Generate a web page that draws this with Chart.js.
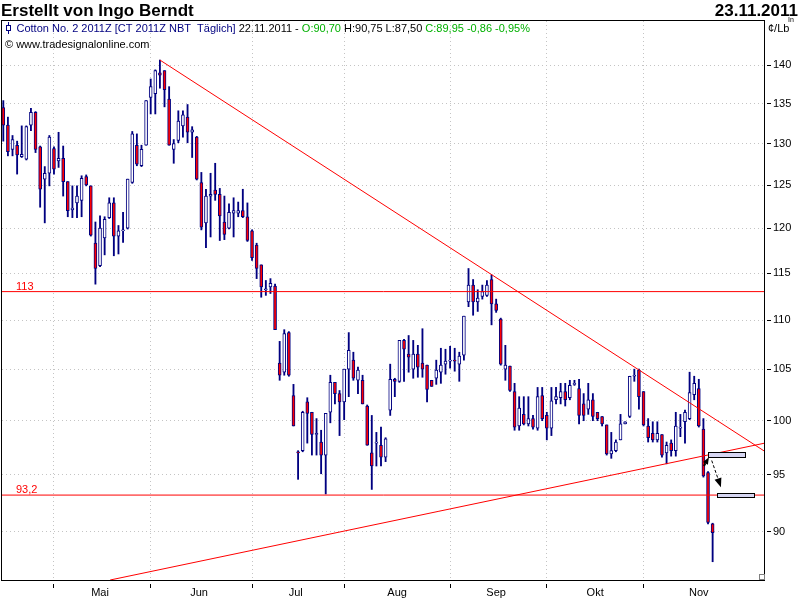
<!DOCTYPE html>
<html>
<head>
<meta charset="utf-8">
<script src="https://cdn.jsdelivr.net/npm/chart.js@4.4.1/dist/chart.umd.min.js"></script>
<style>
  html, body { margin: 0; padding: 0; background: #fff; }
</style>
</head>
<body>
<canvas id="chart" width="800" height="600"></canvas>
<script>
// Cotton No. 2 2011Z, daily candles 14.04.2011 - 22.11.2011 (index = trading day)
const opens = [134.5,132.3,129.3,129.8,128.4,128.1,132.3,133.9,129.6,125.7,
  126.4,129.4,127.9,128.2,125.4,122.1,122.9,123.2,126.0,124.9,
  118.3,115.8,118.9,121.2,122.9,119.1,119.7,120.0,125.3,129.8,
  127.3,129.8,135.8,136.3,139.0,139.3,135.6,129.3,130.4,132.2,
  133.3,131.4,130.8,125.3,120.6,123.7,124.4,123.9,120.7,120.0,
  121.7,121.7,122.0,121.3,119.7,118.1,115.9,113.2,113.5,113.6,
  105.6,104.7,108.7,102.4,97.1,97.2,101.8,100.8,98.7,98.0,
  96.8,100.8,103.7,102.6,101.8,105.0,105.9,103.9,103.9,101.4,
  97.0,97.9,97.7,96.6,101.0,104.0,103.8,107.9,106.5,105.0,
  106.5,105.6,105.4,103.9,104.1,104.7,105.5,105.8,105.9,105.5,
  106.4,111.9,113.7,111.9,112.5,112.6,114.3,111.7,110.1,105.0,
  105.3,102.8,99.5,100.6,99.7,100.2,99.3,102.4,100.5,99.3,
  102.0,102.2,102.8,102.2,103.5,103.1,101.6,101.1,102.0,100.8,
  100.4,99.6,96.9,97.2,98.2,99.7,100.4,104.3,104.9,102.8,
  99.5,98.8,98.2,98.7,97.0,97.9,97.2,99.3,99.9,100.2,
  102.5,103.1,99.2,95.2,90.70];
const highs = [135.4,133.3,131.0,130.3,132.2,132.2,134.4,134.0,129.7,127.2,
  131.0,129.6,131.4,129.7,125.4,124.9,124.9,126.1,126.2,124.9,
  120.7,121.4,121.3,123.5,123.5,120.3,121.8,125.7,131.5,131.2,
  129.8,135.4,138.2,139.4,140.7,139.3,137.2,130.5,134.1,134.1,
  134.9,132.1,130.9,126.5,124.5,126.4,127.6,124.6,123.7,122.8,
  123.5,123.0,124.5,122.9,119.8,118.3,115.9,114.2,114.4,113.8,
  107.8,109.0,108.8,103.5,97.2,100.9,102.2,100.8,100.2,99.1,
  100.7,104.4,103.7,102.9,105.0,108.7,106.7,105.2,104.4,101.5,
  100.5,98.9,99.4,98.4,105.5,104.1,107.9,108.0,108.4,107.9,
  107.4,109.1,105.4,103.9,105.9,107.1,107.0,107.3,107.1,106.7,
  110.4,115.5,114.3,113.2,113.7,114.2,114.8,112.2,110.2,107.4,
  105.3,103.6,102.3,102.3,102.3,100.5,103.2,103.2,100.8,103.2,
  103.2,103.6,103.6,103.9,103.9,104.0,102.6,103.6,102.6,100.8,
  100.4,99.6,98.9,98.2,100.6,99.9,104.3,105.0,105.0,102.8,
  100.2,99.9,99.9,98.7,98.0,98.2,100.8,100.6,101.0,104.7,
  104.3,104.0,100.2,95.3,90.75];
const lows = [130.3,128.5,128.5,126.3,128.3,128.0,131.6,128.9,122.4,120.6,
  124.9,126.3,127.1,123.7,121.3,121.2,121.2,121.3,124.9,119.1,
  113.8,115.7,117.0,121.1,116.9,117.1,118.4,119.9,125.2,127.3,
  127.2,129.8,133.7,133.7,137.0,134.6,129.8,127.6,130.1,130.8,
  130.1,128.3,125.6,119.8,117.8,119.0,123.2,118.6,118.7,119.9,
  119.0,121.3,121.2,118.5,116.4,114.4,112.4,112.6,112.8,109.0,
  103.9,104.4,104.3,99.5,94.6,97.1,97.9,96.8,96.8,95.1,
  93.3,99.8,101.6,98.6,100.1,102.3,103.9,102.6,101.6,97.7,
  93.7,95.8,95.8,96.2,100.5,102.3,103.7,103.8,104.7,104.1,
  104.2,104.2,101.8,103.3,103.5,103.6,104.5,105.1,104.8,103.8,
  105.9,111.4,110.5,110.9,112.2,112.5,109.5,110.8,105.4,103.9,
  102.8,99.1,99.1,99.6,99.5,99.2,99.1,100.0,98.2,98.6,
  101.6,101.6,101.4,102.0,103.4,99.7,100.0,100.6,100.0,100.0,
  99.5,96.8,96.5,97.1,98.2,99.7,100.3,103.8,101.1,99.5,
  98.0,98.0,98.0,96.6,96.0,96.7,96.7,98.5,97.9,100.1,
  102.0,99.4,94.8,90.7,87.50];
const closes = [132.3,129.0,130.5,128.6,128.7,132.1,133.9,129.3,124.5,126.4,
  130.8,126.9,128.2,125.4,122.0,122.3,123.7,125.8,125.0,119.2,
  115.5,120.0,121.0,122.9,119.1,119.7,119.8,125.7,131.2,127.5,
  129.3,135.4,137.2,139.3,138.7,136.8,129.8,130.0,132.8,133.6,
  131.4,131.7,125.7,120.1,123.7,123.9,123.9,121.4,119.3,121.8,
  122.0,122.0,121.3,118.6,116.7,115.5,113.5,113.3,113.9,109.0,
  104.4,108.6,104.4,99.5,97.0,100.8,100.7,98.7,98.8,96.8,
  100.7,103.7,102.6,101.8,105.0,106.9,104.1,104.9,101.6,97.7,
  95.8,98.0,96.6,98.3,104.0,103.8,107.9,107.0,106.2,106.5,
  105.2,105.0,103.0,103.3,104.9,105.4,105.8,105.9,105.8,106.3,
  110.4,113.7,111.9,112.3,113.0,113.7,111.7,111.0,105.5,105.4,
  102.9,99.4,101.2,99.7,100.2,99.4,102.3,100.2,99.3,101.9,
  102.3,102.8,102.0,103.4,103.6,100.5,100.5,102.0,100.4,100.2,
  99.7,96.9,97.2,98.0,99.7,99.9,104.3,104.4,102.3,99.6,
  98.4,98.2,98.8,96.8,97.7,97.2,99.5,99.4,100.8,102.7,
  103.6,99.5,94.9,90.81,89.95];

// month axis (first trading day index, label position)
const monthNames = ['Mai', 'Jun', 'Jul', 'Aug', 'Sep', 'Okt', 'Nov'];
const monthStart = [11, 32, 54, 74, 97, 118, 139];
const monthMid = [21, 42.5, 63.5, 85.5, 107, 128.5, 151];
const yTicks = [90, 95, 100, 105, 110, 115, 120, 125, 130, 135, 140];

// drawn levels and trend lines
const levels = [113, 93.2];
const levelLabels = ['113', '93,2'];
const downTrend = [[34, 140.7], [166, 96.95]];
const upTrend = [[23.2, 86.0], [166, 97.96]];
// boxes [x1, x2, yTop, yBottom], arrows [x1, y1, x2, y2]
const boxes = [[153, 161.1, 97.1, 96.6], [155, 163, 93.4, 93.0]];
const solidArrow = [152.1, 95.8, 153.2, 96.6];
const dashArrow = [153.8, 96.3, 155.8, 93.9];

const FONT = '"Liberation Sans", Arial, sans-serif';
const NAVY = '#000080';
const RED = '#ff0000';
const GREEN = '#00b000';
const GRID = '#c4c4c4';

const idx = opens.map((v, i) => i);
const wickData = idx.map(i => ({ x: i, y: [lows[i], highs[i]] }));
const bodyData = idx.map(i => ({ x: i, y: [opens[i], closes[i]] }));
const xTicks = monthStart.concat(monthMid).sort((a, b) => a - b);

function lineSet(points, order) {
  return {
    type: 'line',
    data: points.map(p => ({ x: p[0], y: p[1] })),
    borderColor: RED,
    borderWidth: 1,
    pointRadius: 0,
    tension: 0,
    order: order
  };
}

function arrow(c, x1, y1, x2, y2, width, head, dash) {
  const ang = Math.atan2(y2 - y1, x2 - x1);
  const bx = x2 - head * Math.cos(ang), by = y2 - head * Math.sin(ang);
  c.save();
  c.strokeStyle = '#000';
  c.fillStyle = '#000';
  c.lineWidth = width;
  c.setLineDash(dash);
  c.beginPath();
  c.moveTo(x1, y1);
  c.lineTo(bx, by);
  c.stroke();
  c.setLineDash([]);
  c.beginPath();
  c.moveTo(x2, y2);
  c.lineTo(bx + head * 0.4 * Math.sin(ang), by - head * 0.4 * Math.cos(ang));
  c.lineTo(bx - head * 0.4 * Math.sin(ang), by + head * 0.4 * Math.cos(ang));
  c.closePath();
  c.fill();
  c.restore();
}

const decor = {
  id: 'decor',
  beforeDraw(chart) {
    const c = chart.ctx;
    c.save();
    c.fillStyle = '#fff';
    c.fillRect(0, 0, chart.width, chart.height);
    c.restore();
  },
  afterDatasetsDraw(chart) {
    const c = chart.ctx, xs = chart.scales.x, ys = chart.scales.y;
    c.save();
    // boxes
    boxes.forEach(b => {
      const x1 = Math.round(xs.getPixelForValue(b[0])) + 0.5;
      const x2 = Math.round(xs.getPixelForValue(b[1])) + 0.5;
      const y1 = Math.round(ys.getPixelForValue(b[2])) + 0.5;
      const y2 = Math.round(ys.getPixelForValue(b[3])) + 0.5;
      c.fillStyle = '#d6d6f2';
      c.fillRect(x1, y1, x2 - x1, y2 - y1);
      c.strokeStyle = '#000';
      c.lineWidth = 1;
      c.strokeRect(x1, y1, x2 - x1, y2 - y1);
    });
    arrow(c, xs.getPixelForValue(solidArrow[0]), ys.getPixelForValue(solidArrow[1]),
      xs.getPixelForValue(solidArrow[2]), ys.getPixelForValue(solidArrow[3]), 2, 7, []);
    arrow(c, xs.getPixelForValue(dashArrow[0]), ys.getPixelForValue(dashArrow[1]),
      xs.getPixelForValue(dashArrow[2]), ys.getPixelForValue(dashArrow[3]), 1, 9, [3, 2]);
    // level labels
    c.font = '11px ' + FONT;
    c.fillStyle = RED;
    c.textBaseline = 'alphabetic';
    levels.forEach((v, i) => {
      c.fillText(levelLabels[i], 16, ys.getPixelForValue(v) - 2);
    });
    c.restore();
  },
  afterDraw(chart) {
    const c = chart.ctx, a = chart.chartArea;
    c.save();
    // plot frame
    c.strokeStyle = '#000';
    c.lineWidth = 1;
    c.strokeRect(1.5, a.top - 0.5, 764.5 - 1.5, a.bottom + 0.5 - (a.top - 0.5));
    // small corner mark
    c.strokeStyle = '#808080';
    c.strokeRect(759.5, 574.5, 5, 5);

    // header
    c.fillStyle = '#000';
    c.textBaseline = 'alphabetic';
    c.font = 'bold 17px ' + FONT;
    c.textAlign = 'left';
    c.fillText('Erstellt von Ingo Berndt', 1, 16);
    c.textAlign = 'right';
    c.fillText('23.11.2011', 798, 16);

    // legend line
    c.textAlign = 'left';
    c.font = '11px ' + FONT;
    const parts = [
      ['Cotton No. 2 2011Z [CT 2011Z NBT  Täglich]', NAVY],
      [' 22.11.2011 - ', '#000'],
      ['O:90,70', GREEN],
      [' H:90,75 L:87,50 ', '#000'],
      ['C:89,95 -0,86 -0,95%', GREEN]
    ];
    let x = 16.5;
    parts.forEach(p => {
      c.fillStyle = p[1];
      c.fillText(p[0], x, 32);
      x += c.measureText(p[0]).width;
    });
    c.fillStyle = '#000';
    c.fillText('\u00a9 www.tradesignalonline.com', 5, 48);
    c.fillText('\u00a2/Lb', 768, 32);
    c.font = '7px ' + FONT;
    c.fillText('In', 788, 22);

    // candle icon
    c.strokeStyle = NAVY;
    c.beginPath();
    c.moveTo(8.5, 22);
    c.lineTo(8.5, 34);
    c.stroke();
    c.fillStyle = '#fff';
    c.fillRect(6.5, 25.5, 4, 5);
    c.strokeRect(6.5, 25.5, 4, 5);
    c.restore();
  }
};

new Chart(document.getElementById('chart'), {
  type: 'bar',
  data: {
    datasets: [
      lineSet([[-1, levels[0]], [170, levels[0]]], 1),
      lineSet([[-1, levels[1]], [170, levels[1]]], 1),
      lineSet(downTrend, 1),
      lineSet(upTrend, 1),
      {
        type: 'bar',
        data: bodyData,
        grouped: false,
        barThickness: 3,
        maxBarThickness: 3,
        borderWidth: 1,
        borderSkipped: false,
        borderColor: NAVY,
        backgroundColor: ctx => closes[ctx.dataIndex] < opens[ctx.dataIndex] ? RED : '#fff',
        order: 2
      },
      {
        type: 'bar',
        data: wickData,
        grouped: false,
        barThickness: 1.2,
        maxBarThickness: 1.2,
        borderWidth: 0,
        backgroundColor: NAVY,
        order: 3
      }
    ]
  },
  options: {
    responsive: false,
    animation: false,
    events: [],
    layout: { padding: { left: 2, top: 21, right: 0, bottom: 0 } },
    plugins: { legend: { display: false }, tooltip: { enabled: false } },
    scales: {
      x: {
        type: 'linear',
        position: 'bottom',
        min: -0.283,
        max: 165.37,
        offset: false,
        afterBuildTicks: s => { s.ticks = xTicks.map(v => ({ value: v })); },
        afterFit: s => { s.height = 20; },
        grid: {
          offset: false,
          color: ctx => monthStart.includes(ctx.tick && ctx.tick.value) ? GRID : 'rgba(0,0,0,0)',
          tickColor: ctx => monthStart.includes(ctx.tick && ctx.tick.value) ? '#000' : 'rgba(0,0,0,0)',
          tickLength: 8,
          tickBorderDash: [0, 4, 4],
          borderDash: [1, 3]
        },
        border: { display: false, dash: [1, 3] },
        ticks: {
          autoSkip: false,
          maxRotation: 0,
          padding: -2,
          color: '#000',
          font: { family: FONT, size: 11 },
          callback: v => {
            const k = monthMid.indexOf(v);
            return k >= 0 ? monthNames[k] : '';
          }
        }
      },
      y: {
        type: 'logarithmic',
        position: 'right',
        min: 86,
        max: 146,
        afterBuildTicks: s => { s.ticks = yTicks.map(v => ({ value: v })); },
        afterFit: s => { s.width = 35; },
        grid: {
          color: GRID,
          tickColor: '#000',
          tickLength: 6,
          tickBorderDash: [0, 2, 4],
          borderDash: [1, 3]
        },
        border: { display: false, dash: [1, 3] },
        ticks: {
          padding: 2,
          color: '#000',
          font: { family: FONT, size: 11 },
          callback: v => String(v)
        }
      }
    }
  },
  plugins: [decor]
});
</script>
</body>
</html>
